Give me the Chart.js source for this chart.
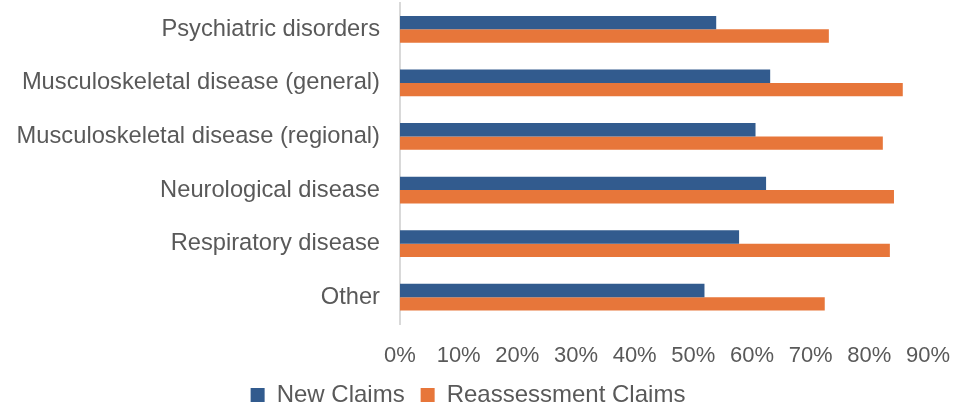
<!DOCTYPE html>
<html>
<head>
<meta charset="utf-8">
<script src="https://cdn.jsdelivr.net/npm/chart.js@4/dist/chart.umd.min.js"></script>
<style>
  html, body { margin: 0; padding: 0; background: #fff; }
  #wrap { width: 955px; height: 405px; position: relative; }
</style>
</head>
<body>
<div id="wrap"><canvas id="claimsChart"></canvas></div>
<script>
const categories = [
  'Psychiatric disorders',
  'Musculoskeletal disease (general)',
  'Musculoskeletal disease (regional)',
  'Neurological disease',
  'Respiratory disease',
  'Other'
];
const newClaims = [0.539, 0.631, 0.606, 0.624, 0.578, 0.519];
const reassessmentClaims = [0.731, 0.857, 0.823, 0.842, 0.835, 0.724];
const seriesNames = ['New Claims', 'Reassessment Claims'];
const tickValues = [0, 0.1, 0.2, 0.3, 0.4, 0.5, 0.6, 0.7, 0.8, 0.9];

const textColor = '#595959';
const fontFamily = '"Liberation Sans", Arial, sans-serif';

const ctx = document.getElementById('claimsChart');
new Chart(ctx, {
  type: 'bar',
  data: {
    labels: categories,
    datasets: [{
      label: seriesNames[0],
      data: newClaims,
      backgroundColor: '#325B8E',
      categoryPercentage: 0.5,
      barPercentage: 1.0
    }, {
      label: seriesNames[1],
      data: reassessmentClaims,
      backgroundColor: '#E7763A',
      categoryPercentage: 0.5,
      barPercentage: 1.0
    }]
  },
  options: {
    indexAxis: 'y',
    responsive: true,
    maintainAspectRatio: false,
    animation: false,
    layout: { padding: { top: 2.5, right: 27, bottom: -12, left: 8 } },
    scales: {
      x: {
        min: 0,
        max: 0.9,
        afterBuildTicks: function (scale) {
          scale.ticks = tickValues.map(v => ({ value: v }));
        },
        afterFit: function (scale) {
          scale.height = 43;
          scale.paddingLeft = 0;
          scale.paddingRight = 0;
        },
        grid: { display: false, drawTicks: false },
        border: { display: false },
        ticks: {
          color: textColor,
          font: { family: fontFamily, size: 22 },
          padding: 19,
          maxRotation: 0,
          callback: function (v) { return Math.round(v * 100) + '%'; }
        }
      },
      y: {
        afterFit: function (scale) {
          scale.width = 392;
          scale.paddingTop = 0;
          scale.paddingBottom = 0;
        },
        grid: { display: false, drawTicks: false },
        border: { display: true, color: '#d9d9d9', width: 2 },
        ticks: { color: textColor, font: { family: fontFamily, size: 23.7 }, padding: 20 }
      }
    },
    plugins: {
      tooltip: { enabled: false },
      legend: {
        position: 'bottom',
        labels: {
          color: textColor,
          font: { family: fontFamily, size: 24 },
          boxWidth: 14,
          boxHeight: 14,
          padding: 16
        }
      }
    }
  }
});
</script>
</body>
</html>
